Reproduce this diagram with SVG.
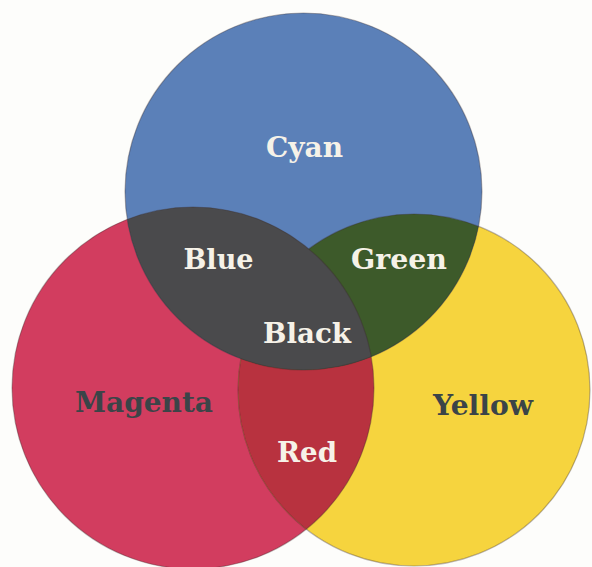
<svg xmlns="http://www.w3.org/2000/svg" width="592" height="567" viewBox="0 0 592 567">
<style>
.lbl{font-family:"DejaVu Serif","Liberation Serif",serif;font-weight:bold;font-size:28px;text-anchor:middle}
.light{fill:#f6f2e8}
.dark{fill:#3b4448}
.edge{fill:none;stroke:#3a2a2a;stroke-opacity:0.35;stroke-width:1.2}
</style>
<defs>
<clipPath id="clipC"><circle cx="303.5" cy="191.5" r="178.5"/></clipPath>
<clipPath id="clipM"><circle cx="193" cy="388" r="181"/></clipPath>
</defs>
<rect width="592" height="567" fill="#fdfdfb"/>
<g id="magenta"><circle cx="193" cy="388" r="181" fill="#d23d5f"/></g>
<g id="yellow"><circle cx="414" cy="390" r="176" fill="#f6d43e"/></g>
<g id="cyan"><circle cx="303.5" cy="191.5" r="178.5" fill="#5b80b8"/></g>
<g id="red"><circle cx="414" cy="390" r="176" fill="#b8323f" clip-path="url(#clipM)"/></g>
<g id="green"><circle cx="414" cy="390" r="176" fill="#3d5a2a" clip-path="url(#clipC)"/></g>
<g id="yellow-edge"><circle class="edge" cx="414" cy="390" r="176"/></g>
<g id="blue-black"><circle cx="193" cy="388" r="181" fill="#4a4a4c" clip-path="url(#clipC)"/></g>
<g id="edges">
<circle class="edge" cx="193" cy="388" r="181"/>
<circle class="edge" cx="303.5" cy="191.5" r="178.5"/>
</g>
<g id="labels">
<text class="lbl light" x="304.5" y="157" textLength="77" lengthAdjust="spacingAndGlyphs">Cyan</text>
<text class="lbl light" x="218.5" y="269" textLength="70" lengthAdjust="spacingAndGlyphs">Blue</text>
<text class="lbl light" x="399" y="269" textLength="96" lengthAdjust="spacingAndGlyphs">Green</text>
<text class="lbl light" x="307" y="343" textLength="88" lengthAdjust="spacingAndGlyphs">Black</text>
<text class="lbl dark" x="144" y="412" textLength="138" lengthAdjust="spacingAndGlyphs">Magenta</text>
<text class="lbl dark" x="483" y="415" textLength="100" lengthAdjust="spacingAndGlyphs">Yellow</text>
<text class="lbl light" x="307" y="462" textLength="60" lengthAdjust="spacingAndGlyphs">Red</text>
</g>
</svg>
